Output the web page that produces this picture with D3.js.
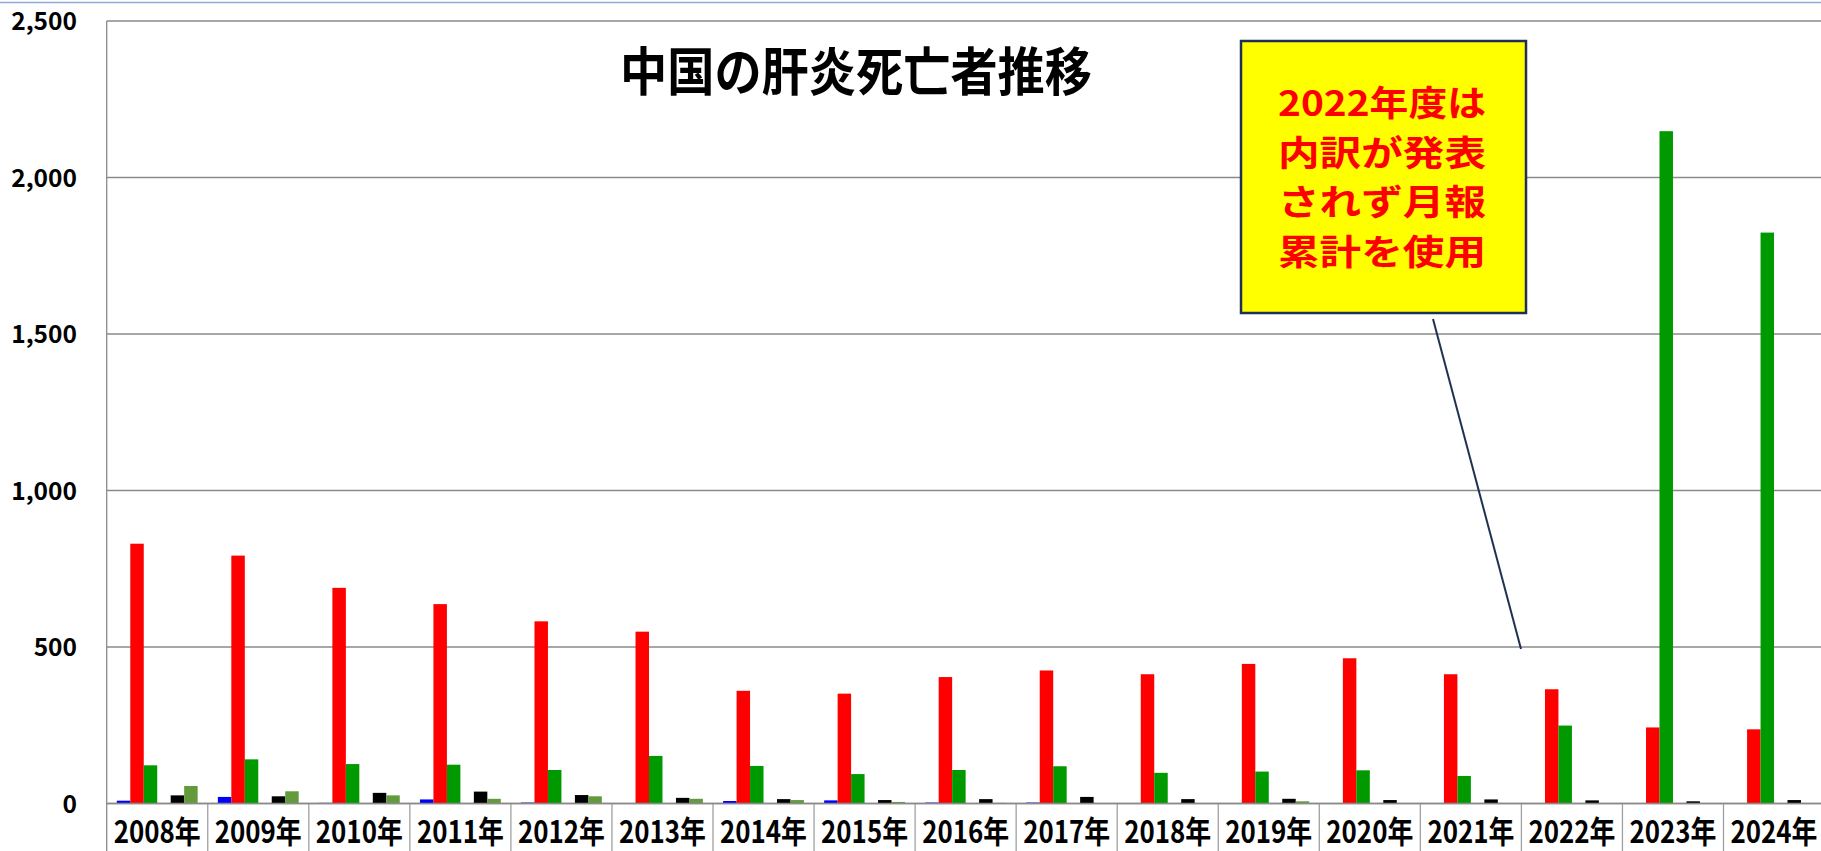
<!DOCTYPE html>
<html>
<head>
<meta charset="utf-8">
<script src="https://cdn.jsdelivr.net/npm/d3@7"></script>
<style>
  body { margin: 0; background: #fff; }
  svg { display: block; }
  text { font-family: "Noto Sans CJK JP", "Noto Sans", sans-serif; font-weight: bold; }
</style>
</head>
<body>
<div id="chart"></div>
<script>
// categories
const years = ["2008年", "2009年", "2010年", "2011年", "2012年", "2013年", "2014年", "2015年", "2016年",
  "2017年", "2018年", "2019年", "2020年", "2021年", "2022年", "2023年", "2024年"]

// series (deaths per year)
const hepA = [9, 21, 2, 13, 3, 0, 8, 10, 3, 3, 1, 1, 1, 0, 0, 0, 0]
const hepB = [830, 792, 689, 637, 582, 549, 360, 351, 404, 425, 413, 446, 464, 413, 365, 243, 237]
const hepC = [122, 141, 126, 124, 107, 152, 120, 94, 107, 119, 98, 102, 106, 88, 249, 2148, 1824]
const hepD = [0, 0, 0, 0, 0, 0, 0, 0, 0, 0, 0, 0, 0, 0, 0, 0, 0]
const hepE = [26, 23, 34, 38, 27, 18, 14, 11, 14, 21, 14, 15, 11, 13, 10, 7, 11]
const hepU = [56, 39, 26, 15, 23, 15, 11, 5, 2, 1, 0, 7, 1, 1, 1, 0, 0]

const seriesNames = ["甲肝", "乙肝", "丙肝", "丁肝", "戊肝", "未分型"]
const seriesColors = ["#0000ff", "#ff0000", "#009900", "#ffffff", "#000000", "#639a3c"]
const yTicks = [0, 500, 1000, 1500, 2000, 2500]

const titleText = "中国の肝炎死亡者推移"
const noteLines = ["2022年度は", "内訳が発表", "されず月報", "累計を使用"]

const width = 1821, height = 851
const plot = { left: 106.7, top: 21, bottom: 803.5, step: 101.05 }

const svg = d3.select("#chart").append("svg")
  .attr("width", width)
  .attr("height", height)

const seriesData = [hepA, hepB, hepC, hepD, hepE, hepU]

// thin blue line across the top
svg.append("line")
  .attr("x1", 0).attr("x2", width)
  .attr("y1", 2.5).attr("y2", 2.5)
  .attr("stroke", "#8eaadb")
  .attr("stroke-width", 1.5)

const x0 = d3.scaleBand()
  .domain(years)
  .range([plot.left, plot.left + plot.step * years.length])
  .paddingInner(0).paddingOuter(0)

const x1 = d3.scaleBand()
  .domain(seriesNames)
  .range([0, x0.bandwidth()])
  .paddingInner(0)
  .paddingOuter(0.75)

const y = d3.scaleLinear()
  .domain([0, 2500])
  .range([plot.bottom, plot.top])

// gridlines
svg.append("g")
  .selectAll("line")
  .data(yTicks)
  .join("line")
  .attr("x1", plot.left).attr("x2", width)
  .attr("y1", d => y(d)).attr("y2", d => y(d))
  .attr("stroke", "#8a8a8a")
  .attr("stroke-width", 1.3)

// y axis line
svg.append("line")
  .attr("x1", plot.left).attr("x2", plot.left)
  .attr("y1", y(2500)).attr("y2", height)
  .attr("stroke", "#8a8a8a")
  .attr("stroke-width", 1.3)

// y tick labels
svg.append("g")
  .selectAll("text")
  .data(yTicks)
  .join("text")
  .attr("x", 77)
  .attr("y", d => y(d) + 9)
  .attr("text-anchor", "end")
  .attr("font-size", 24.5)
  .attr("fill", "#000")
  .text(d => d3.format(",")(d))

// bars
const groups = svg.append("g")
  .selectAll("g")
  .data(years)
  .join("g")
  .attr("transform", d => `translate(${x0(d)},0)`)

groups.selectAll("rect")
  .data((d, i) => seriesNames.map((s, k) => ({ key: s, value: seriesData[k][i], color: seriesColors[k] })))
  .join("rect")
  .attr("x", d => x1(d.key))
  .attr("width", x1.bandwidth())
  .attr("y", d => y(d.value))
  .attr("height", d => y(0) - y(d.value))
  .attr("fill", d => d.color)

// category separators below the axis
svg.append("g")
  .selectAll("line")
  .data(years.slice(1))
  .join("line")
  .attr("x1", d => x0(d)).attr("x2", d => x0(d))
  .attr("y1", plot.bottom).attr("y2", height)
  .attr("stroke", "#a0a0a0")
  .attr("stroke-width", 1.3)

// x axis line
svg.append("line")
  .attr("x1", plot.left).attr("x2", width)
  .attr("y1", plot.bottom).attr("y2", plot.bottom)
  .attr("stroke", "#8a8a8a")
  .attr("stroke-width", 1.5)

// x labels
svg.append("g")
  .selectAll("text")
  .data(years)
  .join("text")
  .attr("x", d => x0(d) + x0.bandwidth() / 2)
  .attr("y", 843)
  .attr("text-anchor", "middle")
  .attr("font-size", 31)
  .attr("textLength", 87)
  .attr("lengthAdjust", "spacingAndGlyphs")
  .attr("fill", "#000")
  .text(d => d)

// title
svg.append("text")
  .attr("x", 620)
  .attr("y", 91)
  .attr("font-size", 52)
  .attr("textLength", 472)
  .attr("lengthAdjust", "spacingAndGlyphs")
  .attr("fill", "#000")
  .text(titleText)

// callout line
svg.append("line")
  .attr("x1", 1433).attr("y1", 319)
  .attr("x2", 1521).attr("y2", 649)
  .attr("stroke", "#1f3050")
  .attr("stroke-width", 2)

// callout box
svg.append("rect")
  .attr("x", 1241).attr("y", 41)
  .attr("width", 285).attr("height", 272)
  .attr("fill", "#ffff00")
  .attr("stroke", "#1f3050")
  .attr("stroke-width", 2.5)

svg.append("g")
  .selectAll("text")
  .data(noteLines)
  .join("text")
  .attr("x", 1278)
  .attr("y", (d, i) => 116 + i * 49.5)
  .attr("font-size", 35)
  .attr("textLength", 208)
  .attr("lengthAdjust", "spacingAndGlyphs")
  .attr("fill", "#ff0000")
  .text(d => d)
</script>
</body>
</html>
